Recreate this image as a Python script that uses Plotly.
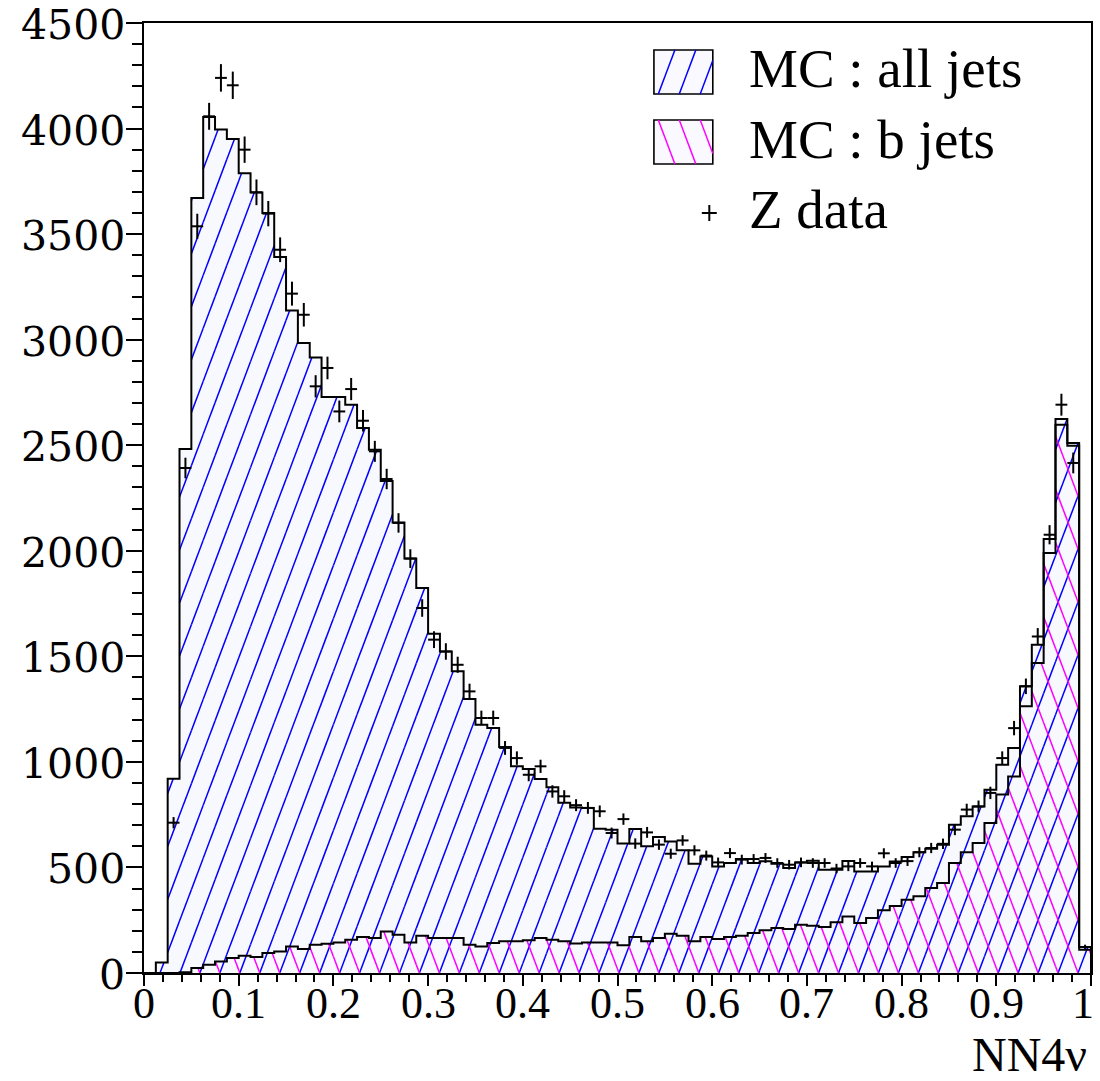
import numpy as np
import plotly.graph_objects as go

# ---------------- data (80 bins, 0..1) ----------------
n_bins = 80
x_lo, x_hi = 0.0, 1.0
y_top = 4500

mc_all = [0, 50, 920, 2482, 3671, 4055, 3995, 3950, 3788, 3697,
          3600, 3391, 3138, 2984, 2915, 2728, 2728, 2692, 2582, 2479,
          2330, 2134, 1963, 1824, 1607, 1523, 1429, 1298, 1176, 1160,
          1071, 979, 966, 919, 880, 806, 784, 782, 683, 679,
          613, 682, 600, 644, 623, 581, 518, 552, 505, 521,
          540, 521, 529, 518, 497, 524, 532, 489, 489, 531,
          481, 481, 504, 528, 550, 572, 588, 608, 702, 742,
          789, 868, 987, 1066, 1358, 1555, 2056, 2624, 2511, 123]

mc_b = [0, 0, 0, 3, 24, 39, 55, 71, 82, 76,
        95, 102, 126, 114, 134, 139, 145, 158, 170, 166,
        197, 181, 145, 176, 166, 166, 166, 134, 126, 142,
        150, 150, 155, 166, 158, 150, 140, 145, 145, 145,
        131, 171, 150, 166, 186, 177, 150, 171, 161, 171,
        177, 189, 202, 213, 208, 229, 224, 218, 240, 268,
        237, 260, 297, 317, 347, 363, 403, 426, 521, 572,
        616, 710, 845, 931, 1263, 1468, 1990, 2597, 2498, 110]

z_data = [None, None, 712, 2392, 3537, 4058, 4240, 4205, 3900, 3698,
          3597, 3426, 3218, 3118, 2779, 2866, 2660, 2766, 2616, 2471,
          2340, 2132, 1963, 1729, 1579, 1523, 1460, 1334, 1208, 1208,
          1066, 1018, 939, 979, 860, 837, 795, 782, 766, 663,
          729, 613, 666, 608, 565, 628, 581, 556, 524, 568,
          537, 540, 545, 521, 513, 524, 521, 521, 495, 505,
          521, 505, 567, 521, 530, 572, 592, 612, 679, 774,
          789, 853, 1018, 1160, 1358, 1594, 2076, 2692, 2416, 123]

x_tick_vals = [0, 0.1, 0.2, 0.3, 0.4, 0.5, 0.6, 0.7, 0.8, 0.9, 1.0]
x_tick_text = ["0", "0.1", "0.2", "0.3", "0.4", "0.5", "0.6", "0.7", "0.8", "0.9", "1"]
y_tick_vals = [0, 500, 1000, 1500, 2000, 2500, 3000, 3500, 4000, 4500]
y_tick_text = ["0", "500", "1000", "1500", "2000", "2500", "3000", "3500", "4000", "4500"]

legend_labels = ["MC : all jets", "MC : b jets", "Z data"]
x_title = "NN4ν"

# ---------------- geometry / style ----------------
W, H = 1100, 1081
ML, MR, MT, MB = 144, 7, 23, 108
PW, PH = W - ML - MR, H - MT - MB

edges = np.linspace(x_lo, x_hi, n_bins + 1)
centers = 0.5 * (edges[:-1] + edges[1:])
bw = edges[1] - edges[0]

BLUE = "rgb(0,0,255)"
MAGENTA = "rgb(255,0,255)"
TINT = "rgba(215,215,255,0.18)"
SERIF = "Liberation Serif, Times New Roman, serif"

HATCH_SLOPE_PX = 2.65
HATCH_SPACING_PX = 20.0
HATCH_PHASE_PX = 16.0


def hatch_segments(values, direction):
    """Clip a family of slanted lines to the area under a step histogram."""
    M = HATCH_SLOPE_PX * (y_top / PH) * (PW / (x_hi - x_lo))
    sp = HATCH_SPACING_PX / PW * (x_hi - x_lo)
    ph = HATCH_PHASE_PX / PW * (x_hi - x_lo)
    reach = max(values) / M
    k0 = int(np.floor((x_lo - reach - ph) / sp)) - 1
    k1 = int(np.ceil((x_hi + reach - ph) / sp)) + 1
    xs, ys = [], []
    for k in range(k0, k1 + 1):
        c = ph + k * sp
        for i, h in enumerate(values):
            if h <= 0:
                continue
            a, b = edges[i], edges[i + 1]
            if direction > 0:
                lo, hi = max(a, c), min(b, c + h / M)
                if lo < hi:
                    xs += [lo, hi, None]
                    ys += [M * (lo - c), M * (hi - c), None]
            else:
                lo, hi = max(a, c - h / M), min(b, c)
                if lo < hi:
                    xs += [lo, hi, None]
                    ys += [M * (c - lo), M * (c - hi), None]
    return xs, ys


def outline(values):
    xs = [x_lo] + list(edges[:-1]) + [x_hi, x_hi]
    ys = [0] + list(values) + [values[-1], 0]
    return xs, ys


fig = go.Figure()

ox, oy = outline(mc_all)
fig.add_trace(go.Scatter(x=ox, y=oy, mode="lines", line=dict(width=0, shape="hv"),
                         fill="tozeroy", fillcolor=TINT, hoverinfo="skip", showlegend=False))
hx, hy = hatch_segments(mc_all, +1)
fig.add_trace(go.Scatter(x=hx, y=hy, mode="lines", line=dict(color=BLUE, width=1.5),
                         hoverinfo="skip", showlegend=False))
mx, my = hatch_segments(mc_b, -1)
fig.add_trace(go.Scatter(x=mx, y=my, mode="lines", line=dict(color=MAGENTA, width=1.5),
                         hoverinfo="skip", showlegend=False))
fig.add_trace(go.Scatter(x=ox, y=oy, mode="lines", line=dict(color="black", width=2, shape="hv"),
                         name=legend_labels[0], showlegend=False))
bx, by = outline(mc_b)
fig.add_trace(go.Scatter(x=bx, y=by, mode="lines", line=dict(color="black", width=2, shape="hv"),
                         name=legend_labels[1], showlegend=False))
err = [np.sqrt(v) if v is not None else 0 for v in z_data]
fig.add_trace(go.Scatter(
    x=centers, y=z_data, mode="markers", name=legend_labels[2], showlegend=False,
    marker=dict(size=2, color="black"),
    error_x=dict(type="constant", value=bw * 0.5, width=0, thickness=2, color="black"),
    error_y=dict(type="data", array=err, width=0, thickness=2, color="black"),
))


# ---------------- helpers ----------------
def px2paper(xp, yp):
    return (xp - ML) / PW, (H - MB - yp) / PH


shapes = []
annotations = []


def add_line_px(x0, y0, x1, y1, color, width):
    a0, b0 = px2paper(x0, y0)
    a1, b1 = px2paper(x1, y1)
    shapes.append(dict(type="line", xref="paper", yref="paper", x0=a0, y0=b0, x1=a1, y1=b1,
                       line=dict(color=color, width=width), layer="above"))


def legend_box(x0, y0, x1, y1, color, direction):
    a0, b0 = px2paper(x0, y1)
    a1, b1 = px2paper(x1, y0)
    shapes.append(dict(type="rect", xref="paper", yref="paper", x0=a0, y0=b0, x1=a1, y1=b1,
                       fillcolor="rgb(249,249,255)", line=dict(color="black", width=1.6), layer="above"))
    hgt = y1 - y0
    dx = hgt / HATCH_SLOPE_PX
    c = x0 - dx
    while c < x1 + dx:
        if direction > 0:
            px0, py0, px1, py1 = c, y1, c + dx, y0
        else:
            px0, py0, px1, py1 = c, y0, c + dx, y1
        t0 = max(0.0, (x0 - px0) / (px1 - px0))
        t1 = min(1.0, (x1 - px0) / (px1 - px0))
        if t1 > t0:
            add_line_px(px0 + t0 * (px1 - px0), py0 + t0 * (py1 - py0),
                        px0 + t1 * (px1 - px0), py0 + t1 * (py1 - py0), color, 1.5)
        c += 21


# legend
legend_box(655, 50, 714, 94, BLUE, +1)
legend_box(655, 120, 714, 164, MAGENTA, -1)
add_line_px(703, 213, 718, 213, "black", 2)
add_line_px(710.5, 205, 710.5, 221, "black", 2)
for label, mid in zip(legend_labels, [69, 139, 209]):
    xa, ya = px2paper(748, mid)
    annotations.append(dict(xref="paper", yref="paper", x=xa, y=ya, text=label, showarrow=False,
                            xanchor="left", yanchor="middle",
                            font=dict(family=SERIF, size=55, color="black")))

# axis title
xa, ya = px2paper(1091, 1054)
annotations.append(dict(xref="paper", yref="paper", x=xa, y=ya, text=x_title, showarrow=False,
                        xanchor="right", yanchor="middle",
                        font=dict(family=SERIF, size=48, color="black")))

# tick labels as text
_, y_lab = px2paper(0, 1003)
for v, t in zip(x_tick_vals, x_tick_text):
    last = v >= x_hi
    annotations.append(dict(xref="x", yref="paper", x=v, y=y_lab, text=t, showarrow=False,
                            xanchor="right" if last else "center", xshift=5 if last else 0,
                            yanchor="middle",
                            font=dict(family=SERIF, size=44, color="black")))
x_lab, _ = px2paper(127, 0)
for v, t in zip(y_tick_vals, y_tick_text):
    annotations.append(dict(xref="paper", yref="y", x=x_lab, y=v, text=t, showarrow=False,
                            xanchor="right", yanchor="middle", yshift=-2,
                            font=dict(family="DejaVu Serif, serif", size=41, color="black")))

fig.update_layout(
    width=W, height=H,
    margin=dict(l=ML, r=MR, t=MT, b=MB, pad=0),
    paper_bgcolor="white", plot_bgcolor="white",
    showlegend=False,
    shapes=shapes, annotations=annotations,
    xaxis=dict(range=[x_lo, x_hi], tickmode="array", tickvals=x_tick_vals, showticklabels=False,
               ticks="outside", ticklen=11, tickwidth=2,
               tickcolor="black", showgrid=False, zeroline=False,
               showline=True, mirror=True, linecolor="black", linewidth=2,
               minor=dict(tickmode="linear", tick0=0, dtick=0.02, ticks="outside", ticklen=7,
                          tickwidth=2, tickcolor="black", showgrid=False)),
    yaxis=dict(range=[0, y_top], tickmode="array", tickvals=y_tick_vals, showticklabels=False,
               ticks="outside", ticklen=16, tickwidth=2,
               tickcolor="black", showgrid=False, zeroline=False,
               showline=True, mirror=True, linecolor="black", linewidth=2,
               minor=dict(tickmode="linear", tick0=0, dtick=100, ticks="outside", ticklen=10,
                          tickwidth=2, tickcolor="black", showgrid=False)),
)

fig.write_html("out.html")
